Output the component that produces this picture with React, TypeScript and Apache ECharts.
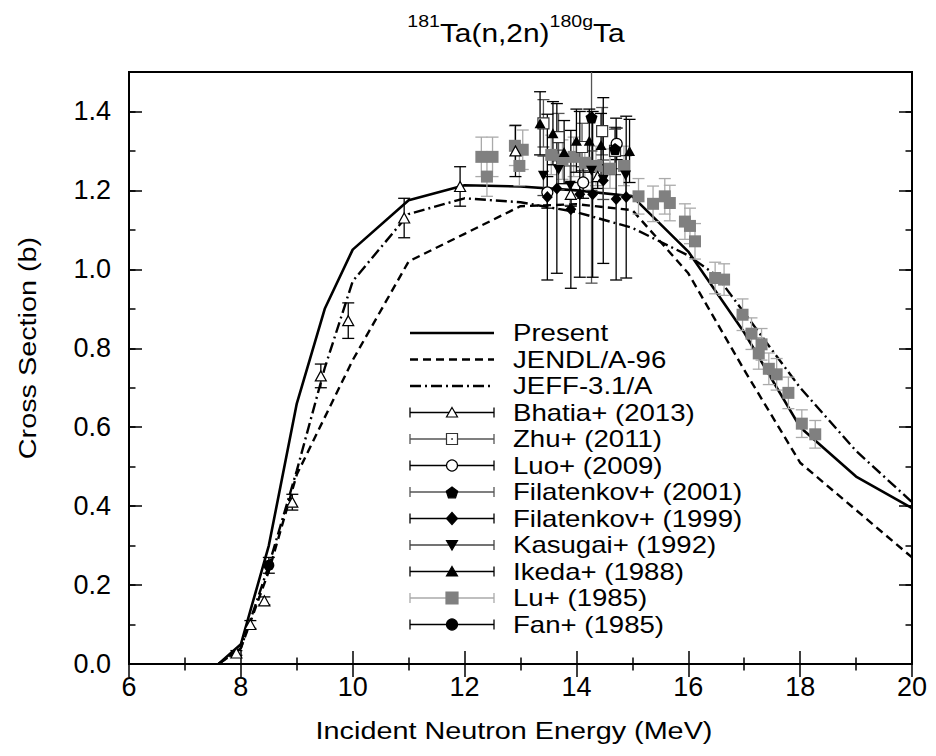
import React, { useEffect, useRef } from "react";
import * as echarts from "echarts";

const FONT = '"Liberation Sans", Arial, Helvetica, sans-serif';

// ---------- Model curves: [energy (MeV), cross section (b)] ----------
const presentCurve = [
  [7.6, 0], [8, 0.05], [8.5, 0.3], [9, 0.66], [9.5, 0.9], [10, 1.05], [11, 1.175],
  [12, 1.213], [13, 1.21], [14, 1.2], [15, 1.185], [16, 1.045], [17, 0.84],
  [18, 0.6], [19, 0.475], [20, 0.395],
];
const jendlCurve = [
  [7.6, 0], [8, 0.04], [8.5, 0.235], [9, 0.48], [10, 0.77], [11, 1.02], [12, 1.09],
  [13, 1.16], [14, 1.165], [15, 1.15], [16, 0.99], [17, 0.745], [18, 0.51],
  [19, 0.39], [20, 0.27],
];
const jeffCurve = [
  [7.6, 0], [8, 0.04], [8.5, 0.25], [9, 0.49], [9.5, 0.75], [10, 0.97], [11, 1.14],
  [12, 1.18], [13, 1.17], [14, 1.145], [15, 1.105], [16, 1.035], [16.5, 0.985],
  [17, 0.89], [18, 0.7], [19, 0.54], [20, 0.41],
];

// ---------- Experimental data: [energy, cross section, uncertainty] ----------
const bhatia2013 = [
  [7.92, 0.028, 0.006], [8.17, 0.1, 0.01], [8.42, 0.16, 0.01], [8.92, 0.41, 0.02],
  [9.43, 0.73, 0.03], [9.92, 0.87, 0.045], [10.92, 1.13, 0.05], [11.92, 1.21, 0.05],
  [12.91, 1.3, 0.065], [13.9, 1.19, 0.03], [14.38, 1.235, 0.03],
];
const zhu2011 = [
  [13.41, 1.37, 0.06], [13.68, 1.335, 0.06], [14.1, 1.31, 0.06], [14.46, 1.35, 0.06],
  [14.69, 1.3, 0.06],
];
const luo2009 = [[13.48, 1.195, 0.04], [14.12, 1.22, 0.04], [14.72, 1.318, 0.04]];
const filatenkov2001 = [[14.27, 1.385, 0.42], [14.69, 1.305, 0.05]];
const filatenkov1999 = [
  [13.48, 1.183, 0.21], [13.65, 1.205, 0.215], [13.9, 1.152, 0.2], [14.06, 1.19, 0.21],
  [14.29, 1.19, 0.21], [14.48, 1.225, 0.21], [14.71, 1.178, 0.205], [14.89, 1.183, 0.205],
];
const kasugai1992 = [
  [13.41, 1.237, 0.05], [13.68, 1.252, 0.05], [13.89, 1.212, 0.05], [14.27, 1.25, 0.05],
  [14.48, 1.227, 0.05], [14.88, 1.238, 0.05],
];
const ikeda1988 = [
  [13.35, 1.37, 0.08], [13.58, 1.345, 0.08], [13.78, 1.297, 0.08], [14.0, 1.326, 0.08],
  [14.23, 1.326, 0.08], [14.44, 1.315, 0.08], [14.95, 1.3, 0.08],
];
const lu1985 = [
  [12.3, 1.285, 0.05], [12.5, 1.285, 0.05], [12.4, 1.235, 0.05], [12.9, 1.313, 0.05],
  [13.04, 1.303, 0.05], [12.98, 1.262, 0.05], [13.55, 1.29, 0.05], [13.75, 1.278, 0.05],
  [13.95, 1.285, 0.05], [14.15, 1.27, 0.05], [14.35, 1.262, 0.05], [14.6, 1.255, 0.05],
  [14.85, 1.262, 0.05], [15.11, 1.185, 0.045], [15.37, 1.166, 0.045], [15.58, 1.185, 0.045],
  [15.67, 1.168, 0.045], [15.94, 1.121, 0.045], [16.03, 1.11, 0.045], [16.12, 1.071, 0.045],
  [16.48, 0.978, 0.04], [16.64, 0.974, 0.04], [16.97, 0.885, 0.04], [17.13, 0.837, 0.04],
  [17.31, 0.81, 0.04], [17.26, 0.787, 0.04], [17.44, 0.748, 0.04], [17.58, 0.734, 0.04],
  [17.79, 0.687, 0.04], [18.03, 0.609, 0.035], [18.27, 0.582, 0.035],
];
const fan1985 = [[8.5, 0.25, 0.02]];

const curveNames = ["Present", "JENDL/A-96", "JEFF-3.1/A"];
const titleParts = [
  { text: "181", sup: true },
  { text: "Ta(n,2n)", sup: false },
  { text: "180g", sup: true },
  { text: "Ta", sup: false },
];

type Exp = {
  name: string;
  data: number[][];
  shape: string;
  fill: string;
  stroke: string;
  bar: string;
};

const experiments: Exp[] = [
  { name: "Bhatia+ (2013)", data: bhatia2013, shape: "triUp", fill: "#ffffff", stroke: "#000000", bar: "#000000" },
  { name: "Zhu+ (2011)", data: zhu2011, shape: "square", fill: "#ffffff", stroke: "#333333", bar: "#555555" },
  { name: "Luo+ (2009)", data: luo2009, shape: "circle", fill: "#ffffff", stroke: "#000000", bar: "#000000" },
  { name: "Filatenkov+ (2001)", data: filatenkov2001, shape: "pentagon", fill: "#000000", stroke: "#000000", bar: "#555555" },
  { name: "Filatenkov+ (1999)", data: filatenkov1999, shape: "diamond", fill: "#000000", stroke: "#000000", bar: "#000000" },
  { name: "Kasugai+ (1992)", data: kasugai1992, shape: "triDown", fill: "#000000", stroke: "#000000", bar: "#444444" },
  { name: "Ikeda+ (1988)", data: ikeda1988, shape: "triUp", fill: "#000000", stroke: "#000000", bar: "#000000" },
  { name: "Lu+ (1985)", data: lu1985, shape: "lusquare", fill: "#808080", stroke: "#808080", bar: "#aaaaaa" },
  { name: "Fan+ (1985)", data: fan1985, shape: "fancircle", fill: "#000000", stroke: "#000000", bar: "#000000" },
];

// draw order (Lu behind others)
const drawOrder = [7, 0, 1, 2, 3, 4, 5, 6, 8];

function symbolFor(shape: string): { symbol: string; size: any } {
  switch (shape) {
    case "triUp": return { symbol: "triangle", size: [11, 10] };
    case "triDown": return { symbol: "path://M0,0L10,0L5,9Z", size: [11, 10] };
    case "square": return { symbol: "rect", size: 11 };
    case "lusquare": return { symbol: "rect", size: 12 };
    case "circle": return { symbol: "circle", size: 11 };
    case "fancircle": return { symbol: "circle", size: 11 };
    case "diamond": return { symbol: "diamond", size: [11, 12] };
    case "pentagon": return { symbol: "path://M5,0L10,3.6L8.1,9.5L1.9,9.5L0,3.6Z", size: 12 };
  }
  return { symbol: "circle", size: 10 };
}

function legendMarker(shape: string, cx: number, cy: number, fill: string, stroke: string): any[] {
  const style = { fill, stroke, lineWidth: 1.2 };
  switch (shape) {
    case "triUp":
      return [{ type: "polygon", shape: { points: [[cx, cy - 5], [cx + 5.5, cy + 4.5], [cx - 5.5, cy + 4.5]] }, style }];
    case "triDown":
      return [{ type: "polygon", shape: { points: [[cx - 5.5, cy - 4.5], [cx + 5.5, cy - 4.5], [cx, cy + 5]] }, style }];
    case "square":
      return [
        { type: "rect", shape: { x: cx - 5.5, y: cy - 5.5, width: 11, height: 11 }, style },
        { type: "circle", shape: { cx, cy, r: 0.9 }, style: { fill: stroke } },
      ];
    case "lusquare":
      return [{ type: "rect", shape: { x: cx - 6, y: cy - 6, width: 12, height: 12 }, style }];
    case "circle":
    case "fancircle":
      return [{ type: "circle", shape: { cx, cy, r: 5.5 }, style }];
    case "diamond":
      return [{ type: "polygon", shape: { points: [[cx, cy - 6], [cx + 5.5, cy], [cx, cy + 6], [cx - 5.5, cy]] }, style }];
    case "pentagon": {
      const pts: number[][] = [];
      for (let k = 0; k < 5; k++) {
        const a = -Math.PI / 2 + (k * 2 * Math.PI) / 5;
        pts.push([cx + 6 * Math.cos(a), cy + 1 + 6 * Math.sin(a)]);
      }
      return [{ type: "polygon", shape: { points: pts }, style }];
    }
  }
  return [{ type: "circle", shape: { cx, cy, r: 5 }, style }];
}

function measure(text: string, size: number): number {
  const ctx = document.createElement("canvas").getContext("2d");
  if (!ctx) return text.length * size * 0.55;
  ctx.font = `${size}px ${FONT}`;
  return ctx.measureText(text).width;
}

export default function App() {
  const ref = useRef<HTMLDivElement>(null);

  useEffect(() => {
    document.body.style.margin = "0";
    if (!ref.current) return;
    const chart = echarts.init(ref.current, undefined, { renderer: "svg" });

    const GRID = { left: 129, right: 24, top: 72, bottom: 92 };
    const TXT = 23; // text height used by the wide-set gnuplot font
    const SX = 1.2; // horizontal widening of that font

    const errBarSeries = (exp: Exp) => ({
      type: "custom",
      name: exp.name + " err",
      xAxisIndex: 0,
      yAxisIndex: 0,
      z: 3,
      silent: true,
      data: exp.data,
      encode: { x: 0, y: 1 },
      renderItem: (params: any, api: any) => {
        const x = api.value(0);
        const y = api.value(1);
        const e = api.value(2);
        const c = api.coord([x, y]);
        const cs = params.coordSys;
        const top = api.coord([x, y + e])[1];
        const bot = api.coord([x, y - e])[1];
        const t = Math.max(top, cs.y);
        const b = Math.min(bot, cs.y + cs.height);
        const st = { stroke: exp.bar, lineWidth: 1.3 };
        const children: any[] = [
          { type: "line", shape: { x1: c[0], y1: t, x2: c[0], y2: b }, style: st },
        ];
        if (top >= cs.y) children.push({ type: "line", shape: { x1: c[0] - 6, y1: top, x2: c[0] + 6, y2: top }, style: st });
        if (bot <= cs.y + cs.height) children.push({ type: "line", shape: { x1: c[0] - 6, y1: bot, x2: c[0] + 6, y2: bot }, style: st });
        return { type: "group", children };
      },
    });

    const markerSeries = (exp: Exp) => {
      const s = symbolFor(exp.shape);
      return {
        type: "scatter",
        name: exp.name,
        xAxisIndex: 0,
        yAxisIndex: 0,
        z: 4,
        silent: true,
        symbol: s.symbol,
        symbolSize: s.size,
        data: exp.data.map((d) => [d[0], d[1]]),
        itemStyle: { color: exp.fill, borderColor: exp.stroke, borderWidth: exp.fill === "#ffffff" ? 1.2 : 0, opacity: 1 },
      };
    };

    const lineStyles: any[] = [
      { type: "solid", width: 2.6 },
      { type: [8, 5], width: 2.4 },
      { type: [11, 4, 2, 4], width: 2.4 },
    ];
    const curves = [presentCurve, jendlCurve, jeffCurve];

    const series: any[] = [];
    curves.forEach((c, i) => {
      series.push({
        type: "line",
        name: curveNames[i],
        data: c,
        xAxisIndex: 0,
        yAxisIndex: 0,
        symbol: "none",
        z: 2,
        silent: true,
        lineStyle: { color: "#000", ...lineStyles[i] },
      });
    });
    drawOrder.forEach((k) => {
      series.push(errBarSeries(experiments[k]));
      series.push(markerSeries(experiments[k]));
    });

    // legend graphics
    const legend: any[] = [];
    const lx1 = 410, lx2 = 494, ltx = 513, ly0 = 333, ldy = 26.5;
    const allNames = [...curveNames, ...experiments.map((e) => e.name)];
    allNames.forEach((name, i) => {
      const y = ly0 + i * ldy;
      if (i < 3) {
        legend.push({
          type: "line",
          shape: { x1: lx1, y1: y, x2: lx2, y2: y },
          style: { stroke: "#000", lineWidth: lineStyles[i].width, lineDash: i === 0 ? null : lineStyles[i].type },
        });
      } else {
        const exp = experiments[i - 3];
        const st = { stroke: exp.bar, lineWidth: 1.3 };
        legend.push({ type: "line", shape: { x1: lx1, y1: y, x2: lx2, y2: y }, style: st });
        legend.push({ type: "line", shape: { x1: lx1, y1: y - 5, x2: lx1, y2: y + 5 }, style: st });
        legend.push({ type: "line", shape: { x1: lx2, y1: y - 5, x2: lx2, y2: y + 5 }, style: st });
        legend.push(...legendMarker(exp.shape, (lx1 + lx2) / 2, y, exp.fill, exp.stroke));
      }
      legend.push({
        type: "text",
        x: ltx,
        y,
        scaleX: SX,
        style: { text: name, font: `${TXT}px ${FONT}`, fill: "#000", align: "left", verticalAlign: "middle" },
      });
    });

    // title with superscripts
    const baseSize = 26, supSize = 17, TSX = 1.15;
    const widths = titleParts.map((p) => measure(p.text, p.sup ? supSize : baseSize) * TSX);
    const total = widths.reduce((a, b) => a + b, 0);
    let tx = 516 - total / 2;
    const titleEls: any[] = [];
    titleParts.forEach((p, i) => {
      titleEls.push({
        type: "text",
        x: tx,
        y: p.sup ? 21 : 33,
        scaleX: TSX,
        style: {
          text: p.text,
          font: `${p.sup ? supSize : baseSize}px ${FONT}`,
          fill: "#000",
          align: "left",
          verticalAlign: "middle",
        },
      });
      tx += widths[i];
    });

    const tickStyle = { color: "#000", width: 1.5 };
    const xCommon = {
      type: "value",
      min: 6,
      max: 20,
      interval: 2,
      axisLine: { show: false },
      splitLine: { show: false },
      axisTick: { show: true, inside: true, length: 13, lineStyle: tickStyle },
      minorTick: { show: true, splitNumber: 2, length: 6.5, lineStyle: tickStyle },
    };
    const yMajor = {
      type: "value",
      min: 0,
      max: 1.5,
      interval: 0.2,
      axisLine: { show: false },
      splitLine: { show: false },
      axisTick: { show: true, inside: true, length: 13, lineStyle: tickStyle },
    };
    const yMinor = {
      type: "value",
      min: 0,
      max: 1.5,
      interval: 0.1,
      axisLine: { show: false },
      splitLine: { show: false },
      axisLabel: { show: false },
      axisTick: { show: true, inside: true, length: 6.5, lineStyle: tickStyle },
    };

    chart.setOption({
      animation: false,
      backgroundColor: "#ffffff",
      textStyle: { fontFamily: FONT },
      grid: {
        ...GRID,
        containLabel: false,
        outerBoundsMode: "none",
        show: true,
        borderColor: "#000",
        borderWidth: 2,
        backgroundColor: "transparent",
      },
      xAxis: [
        {
          ...xCommon,
          position: "bottom",
          axisLabel: {
            show: true,
            margin: 9,
            fontSize: 27,
            color: "#000",
            fontFamily: FONT,
          },
        },
        { ...xCommon, position: "top", axisLabel: { show: false } },
      ],
      yAxis: [
        {
          ...yMajor,
          position: "left",
          axisLabel: {
            show: true,
            margin: 18,
            fontSize: 27,
            color: "#000",
            fontFamily: FONT,
            showMaxLabel: false,
            formatter: (v: number) => v.toFixed(1),
          },
        },
        { ...yMinor, position: "left" },
        { ...yMajor, position: "right", axisLabel: { show: false } },
        { ...yMinor, position: "right" },
      ],
      graphic: [
        ...titleEls,
        {
          type: "text",
          x: 28,
          y: 348,
          rotation: Math.PI / 2,
          scaleX: SX,
          style: { text: "Cross Section (b)", font: `${TXT + 1}px ${FONT}`, fill: "#000", align: "center", verticalAlign: "middle" },
        },
        {
          type: "text",
          x: 514,
          y: 731,
          scaleX: SX,
          style: { text: "Incident Neutron Energy (MeV)", font: `${TXT + 1}px ${FONT}`, fill: "#000", align: "center", verticalAlign: "middle" },
        },
        ...legend,
      ],
      series,
    });

    return () => chart.dispose();
  }, []);

  return <div ref={ref} style={{ width: 936, height: 756 }} />;
}
